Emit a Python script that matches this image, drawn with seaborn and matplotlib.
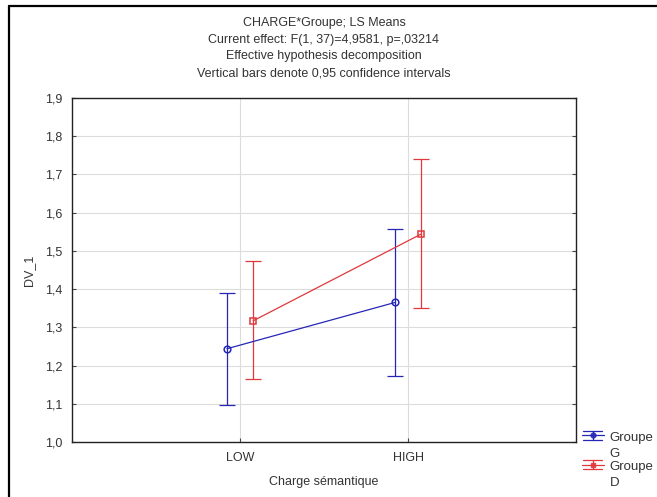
import numpy as np
import pandas as pd
import matplotlib
matplotlib.use("Agg")
import matplotlib.pyplot as plt
import seaborn as sns
from matplotlib.lines import Line2D
from matplotlib.legend_handler import HandlerBase

# ---- data ----
categories = ["LOW", "HIGH"]
groups = ["G", "D"]
means_G = [1.244, 1.365]
lower_G = [1.097, 1.173]
upper_G = [1.389, 1.557]
means_D = [1.317, 1.544]
lower_D = [1.165, 1.350]
upper_D = [1.473, 1.741]
yticks = [1.0, 1.1, 1.2, 1.3, 1.4, 1.5, 1.6, 1.7, 1.8, 1.9]
legend_labels = ["Groupe\nG", "Groupe\nD"]
title_lines = ["CHARGE*Groupe; LS Means",
               "Current effect: F(1, 37)=4,9581, p=,03214",
               "Effective hypothesis decomposition",
               "Vertical bars denote 0,95 confidence intervals"]

sns.set_theme(style="white")
plt.rcParams['font.family'] = ['Liberation Sans', 'DejaVu Sans']
txt = '#333333'

W, H = 657, 497
fig = plt.figure(figsize=(W / 100, H / 100), dpi=100)
ax = fig.add_axes([72 / W, 1 - 442 / H, 504 / W, 344 / H])

colors = {"G": "#2626b6", "D": "#e0383c"}
markers = {"G": "o", "D": "s"}
offsets = {"G": -0.078, "D": 0.078}
stats = {"G": (means_G, lower_G, upper_G), "D": (means_D, lower_D, upper_D)}

rows = []
for g in groups:
    m, lo, hi = stats[g]
    for i, c in enumerate(categories):
        rows.append(dict(Groupe=g, cat=c, pos=i + 1 + offsets[g], mean=m[i], lo=lo[i], hi=hi[i]))
df = pd.DataFrame(rows)


class ErrLegendHandler(HandlerBase):
    def __init__(self, color, marker, yoff=0.0):
        super().__init__()
        self.color, self.marker, self.yoff = color, marker, yoff

    def create_artists(self, legend, orig_handle, xdescent, ydescent, width, height,
                       fontsize, trans):
        x0, x1 = -xdescent, -xdescent + width
        cx = (x0 + x1) / 2
        cy = height / 2 - ydescent + self.yoff
        hh = 3.3
        arts = [
            Line2D([x0, x1], [cy, cy], color=self.color, lw=0.9),
            Line2D([x0 + 1, x1 - 1], [cy + hh, cy + hh], color=self.color, lw=0.9),
            Line2D([x0 + 1, x1 - 1], [cy - hh, cy - hh], color=self.color, lw=0.9),
            Line2D([cx, cx], [cy - hh, cy + hh], color=self.color, lw=0.9),
            Line2D([cx], [cy], marker=self.marker, markersize=3.5, color=self.color,
                   markerfacecolor=self.color, markeredgecolor=self.color, alpha=0.85),
        ]
        for a in arts:
            a.set_transform(trans)
        return arts


handles = []
hmap = {}
for g in groups:
    sub = df[df.Groupe == g]
    sns.lineplot(data=sub, x="pos", y="mean", ax=ax, color=colors[g], lw=0.9,
                 marker=markers[g], markersize=4.8, markerfacecolor='none',
                 markeredgecolor=colors[g], markeredgewidth=1.1, legend=False, zorder=3)
    ax.errorbar(sub["pos"], sub["mean"],
                yerr=[sub["mean"] - sub["lo"], sub["hi"] - sub["mean"]],
                fmt='none', ecolor=colors[g], elinewidth=0.9, capsize=5.8,
                capthick=0.9, zorder=2)
    proxy = Line2D([], [], color=colors[g])
    handles.append(proxy)
    hmap[proxy] = ErrLegendHandler(colors[g], 'o' if g == "G" else 's', yoff=7.6)

ax.set_xlim(0, 3)
ax.set_ylim(1.0, 1.9)
ax.set_xticks([1, 2])
ax.set_xticklabels(categories)
ax.set_yticks(yticks)
ax.set_yticklabels([f"{v:.1f}".replace('.', ',') for v in yticks])
ax.grid(True, color='#dcdcdc', lw=0.8)
ax.set_axisbelow(True)
for s in ax.spines.values():
    s.set_color('#222222')
    s.set_linewidth(1.0)
ax.tick_params(axis='both', direction='in', length=3, width=0.8, color='#444444',
               labelsize=9, labelcolor=txt, pad=7, left=True, bottom=True, right=True)
ax.set_xlabel("Charge sémantique", fontsize=9, color=txt, labelpad=9)
ax.set_ylabel("DV_1", fontsize=9, color=txt, labelpad=7)

fig.text(324 / W, 1 - 48 / H, "\n".join(title_lines), ha='center', va='center',
         fontsize=9, color=txt, linespacing=1.55)

leg = fig.legend(handles, legend_labels, loc='upper left',
                 bbox_to_anchor=(582 / W, 1 - 432 / H), frameon=False, fontsize=9.5,
                 handlelength=1.65, handletextpad=0.45, labelspacing=0.12,
                 borderpad=0, borderaxespad=0, handler_map=hmap)
for t in leg.get_texts():
    t.set_color(txt)
    t.set_linespacing(1.42)

# figure frame (left and top edges)
fig.add_artist(Line2D([9 / W, 9 / W], [0, 1 - 6 / H], transform=fig.transFigure,
                      color='black', lw=1.6))
fig.add_artist(Line2D([9 / W, 1], [1 - 6 / H, 1 - 6 / H], transform=fig.transFigure,
                      color='black', lw=1.6))

fig.savefig("out.png", dpi=100)
